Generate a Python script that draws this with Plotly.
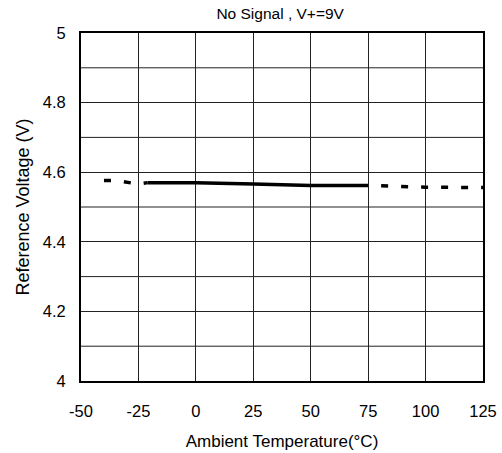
import plotly.graph_objects as go

cold_x = [-40, -35, -25, -21]
cold_y = [4.576, 4.576, 4.566, 4.570]
mid_x = [-21, 0, 25, 50, 75]
mid_y = [4.570, 4.570, 4.566, 4.562, 4.562]
hot_x = [75, 100, 125]
hot_y = [4.562, 4.557, 4.556]

x_ticks = [-50, -25, 0, 25, 50, 75, 100, 125]
y_ticks = [4, 4.2, 4.4, 4.6, 4.8, 5]

fig = go.Figure()
fig.add_trace(go.Scatter(x=cold_x, y=cold_y, mode="lines",
                         line=dict(color="black", width=3.5, dash="7px,13px")))
fig.add_trace(go.Scatter(x=mid_x, y=mid_y, mode="lines",
                         line=dict(color="black", width=3.5)))
fig.add_trace(go.Scatter(x=hot_x, y=hot_y, mode="lines",
                         line=dict(color="black", width=3.5, dash="0px,13px,7px,0px")))

# minor horizontal grid lines at odd tenths
for v in [4.1, 4.3, 4.5, 4.7, 4.9]:
    fig.add_shape(type="line", xref="paper", yref="y", x0=0, x1=1, y0=v, y1=v,
                  line=dict(color="#222", width=1), layer="below")

fig.update_layout(
    width=502, height=453,
    margin=dict(l=81, r=19, t=33, b=72, autoexpand=False),
    paper_bgcolor="white", plot_bgcolor="white",
    showlegend=False,
    font=dict(family="Liberation Sans, Arial, sans-serif", size=16, color="black"),
    title=dict(text="No Signal , V+=9V", x=0.5581, xanchor="center", y=0.969, yanchor="middle",
               font=dict(size=15.5)),
)
fig.update_xaxes(range=[-50, 125], tickvals=x_ticks, ticktext=[str(v) for v in x_ticks],
                 showgrid=True, gridcolor="#222", gridwidth=1, automargin=False,
                 showline=True, linecolor="black", linewidth=2, mirror=True,
                 ticks="", ticklabelstandoff=14, zeroline=False, tickfont=dict(size=16.5),
                 title=dict(text="Ambient Temperature(°C)", standoff=16, font=dict(size=17)))
fig.update_yaxes(range=[4, 5], tickvals=y_ticks, ticktext=["4", "4.2", "4.4", "4.6", "4.8", "5"],
                 showgrid=True, gridcolor="#222", gridwidth=1, automargin=False,
                 showline=True, linecolor="black", linewidth=2, mirror=True,
                 ticks="", ticklabelstandoff=10, zeroline=False, tickfont=dict(size=16.5),
                 title=dict(text="Reference Voltage (V)", standoff=8, font=dict(size=18)))

fig.write_html("out.html")
